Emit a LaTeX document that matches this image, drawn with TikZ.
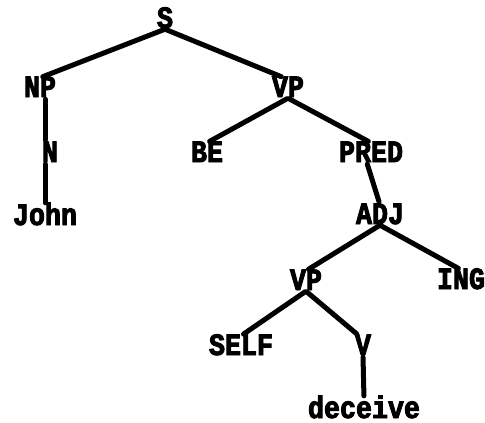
\documentclass[tikz,border=0pt]{standalone}
\usepackage{fontspec}
\usepackage{xcolor}
\newfontfamily\tw{Liberation Mono}[FakeStretch=0.86,
  BoldFont={Liberation Mono Bold}, BoldFeatures={FakeBold=3}]
\definecolor{ink}{HTML}{000000}
\tikzset{
  lab/.style={text=ink, font=\tw\bfseries\fontsize{31}{33}\selectfont, anchor=base,
    inner sep=0pt, text height=19pt, text depth=1pt},
  br/.style={draw=ink, line width=5pt, line cap=round, line join=round,
    shorten <=1pt, shorten >=3pt},
}
\begin{document}
\begin{tikzpicture}[x=1pt,y=-1pt]
  \useasboundingbox (0,0) rectangle (485,423);

  \node[lab] (s) at (165,28) {S};
  \node[lab] (np) at (40,97) {NP};
  \node[lab] (vp) at (288,97) {VP};
  \node[lab] (n) at (50,162) {N};
  \node[lab] (be) at (207,162) {BE};
  \node[lab] (pred) at (371,162) {PRED};
  \node[lab] (john) at (45,225) {John};
  \node[lab] (adj) at (380,224) {ADJ};
  \node[lab] (vpb) at (306,290) {VP};
  \node[lab] (ing) at (461,289) {ING};
  \node[lab] (self) at (241,355) {SELF};
  \node[lab] (v) at (363,355) {V};
  \node[lab] (dec) at (364,418) {deceive};

  \draw[br] (s.south)--(np.north);
  \draw[br] (s.south)--([xshift=-4pt]vp.north);
  \draw[br] ([xshift=5pt]np.south)--([xshift=-5pt]n.north);
  \draw[br] ([xshift=-5pt]n.south)--(john.north);
  \draw[br] (vp.south)--(be.north);
  \draw[br] (vp.south)--(pred.north);
  \draw[br] ([xshift=-4pt]pred.south)--(adj.north);
  \draw[br] (adj.south)--(vpb.north);
  \draw[br] (adj.south)--(ing.north);
  \draw[br] (vpb.south)--(self.north);
  \draw[br] (vpb.south)--([xshift=-4pt]v.north);
  \draw[br] (v.south)--(dec.north);
\end{tikzpicture}
\end{document}
